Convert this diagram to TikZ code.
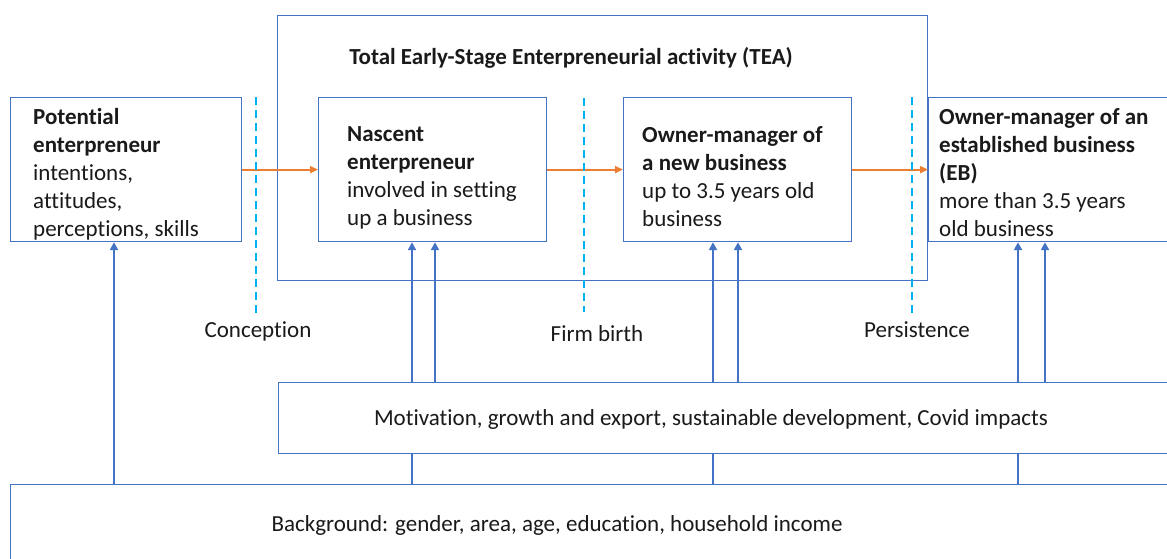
\documentclass[tikz,border=0pt]{standalone}
\usepackage{fontspec}
\setmainfont{Carlito}[Ligatures=NoCommon]
\usetikzlibrary{arrows.meta}
\definecolor{boxblue}{HTML}{4472C4}
\definecolor{arrblue}{HTML}{4472C4}
\definecolor{flowor}{HTML}{ED7D31}
\definecolor{stagecy}{HTML}{00B0F0}
\definecolor{ink}{HTML}{1A1A1A}
\pgfdeclarelayer{under}
\pgfsetlayers{under,main}
\begin{document}
\begin{tikzpicture}[x=1pt,y=-1pt,
  box/.style={draw=boxblue, line width=1.2pt, fill=white, inner sep=0pt, anchor=north west},
  txt/.style={font=\fontsize{23}{28}\selectfont, text=ink, align=left, inner sep=0pt, anchor=north west},
  lbl/.style={font=\fontsize{23}{28}\selectfont, text=ink, inner sep=0pt},
  flow/.style={draw=flowor, line width=2.2pt, -{Triangle[length=8pt,width=7pt]}},
  up/.style={draw=arrblue, line width=2.2pt, -{Triangle[length=8pt,width=8pt]}},
  stagebreak/.style={draw=stagecy, line width=2.4pt, dash pattern=on 8pt off 5pt},
]
\clip (0,0) rectangle (1167,558);

% outer TEA frame and its title
\node[box, fill=none, minimum width=650, minimum height=265] (tea) at (277,15) {};
\node[lbl, font=\fontsize{23}{28}\selectfont\bfseries] (teatitle) at (571,58) {Total Early-Stage Enterpreneurial activity (TEA)};

% stage boxes
\node[box, minimum width=231, minimum height=144] (pot) at (10,97) {};
\node[box, minimum width=228, minimum height=144] (nas) at (318,97) {};
\node[box, minimum width=228, minimum height=144] (new) at (623,97) {};
\node[box, minimum width=300, minimum height=144] (eb)  at (928,97) {};

\node[txt] (pottxt) at (33,108) {\textbf{Potential}\\\textbf{enterpreneur}\\intentions,\\attitudes,\\perceptions, skills};
\node[txt] (nastxt) at (347,126) {\textbf{Nascent}\\\textbf{enterpreneur}\\involved in setting\\up a business};
\node[txt] (newtxt) at (642,126) {\textbf{Owner-manager of}\\\textbf{a new business}\\up to 3.5 years old\\business};
\node[txt] (ebtxt)  at (939,108) {\textbf{Owner-manager of an}\\\textbf{established business}\\\textbf{(EB)}\\more than 3.5 years\\old business};

% stage transitions
\draw[flow] (pot.east) -- (nas.west);
\draw[flow] (nas.east) -- (new.west);
\draw[flow] (new.east) -- (eb.west);

\coordinate (c1t) at (256,97);  \coordinate (c1b) at (256,315);
\coordinate (c2t) at (584,98);  \coordinate (c2b) at (584,312);
\coordinate (c3t) at (912,97);  \coordinate (c3b) at (912,315);
\draw[stagebreak] (c1t) -- (c1b);
\draw[stagebreak] (c2t) -- (c2b);
\draw[stagebreak] (c3t) -- (c3b);
\node[lbl] (conc) at (258,331) {Conception};
\node[lbl] (birth) at (597,334) {Firm birth};
\node[lbl] (pers) at (917,330) {Persistence};

% factor boxes
\node[box, minimum width=950, minimum height=71] (mot) at (278,382) {};
\node[lbl] (mottxt) at (711,419) {Motivation, growth and export, sustainable development, Covid impacts};
\node[box, minimum width=1200, minimum height=120] (bgd) at (10,484) {};
\node[lbl] (bgdtxt) at (557,525) {Background: gender, area, age, education, household income};

% influences
\coordinate (b1) at (114,484);
\coordinate (b2) at (412,484);
\coordinate (b3) at (713,484);
\coordinate (b4) at (1018,484);
\coordinate (m2) at (435,382);
\coordinate (m3) at (738,382);
\coordinate (m4) at (1045,382);
\begin{pgfonlayer}{under}
\draw[up] (b2) -- (b2 |- nas.south);
\draw[up] (b3) -- (b3 |- new.south);
\draw[up] (b4) -- (b4 |- eb.south);
\end{pgfonlayer}
\draw[up] (b1) -- (b1 |- pot.south);
\draw[up] (m2) -- (m2 |- nas.south);
\draw[up] (m3) -- (m3 |- new.south);
\draw[up] (m4) -- (m4 |- eb.south);
\end{tikzpicture}
\end{document}
